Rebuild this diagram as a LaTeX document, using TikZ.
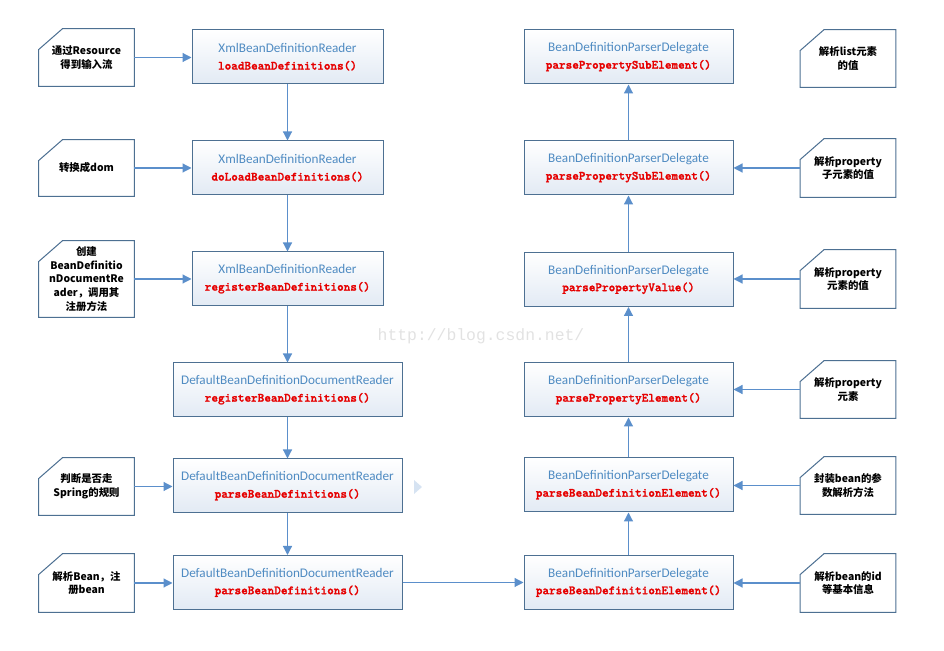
\documentclass[tikz,border=0pt]{standalone}
\usepackage{fontspec}
\setmainfont{Carlito}
\setmonofont{lmmono10-regular.otf}[BoldFont=lmmonolt10-bold.otf, BoldFeatures={FakeBold=1.5}]
\newfontfamily\cjk{Noto Sans CJK SC}
\newfontfamily\wmfont{Liberation Mono}
\usetikzlibrary{arrows.meta}
\definecolor{boxline}{HTML}{4D7092}
\definecolor{boxfill}{HTML}{E2EAF4}
\definecolor{arrowblue}{HTML}{5B8FCB}
\definecolor{clsblue}{HTML}{4F8BC2}
\definecolor{mthred}{HTML}{E60000}
\definecolor{wmgray}{HTML}{E2E2E2}
\newcommand\clsname[1]{{\color{clsblue}#1}}
\newcommand\mthname[1]{{\fontsize{6.3}{8.5}\selectfont\ttfamily\bfseries\color{mthred}#1}}
\begin{document}
\begin{tikzpicture}[x=0.5pt,y=-0.5pt,>={Triangle[length=4.5pt,width=4.5pt]},
    box/.style={draw=boxline, line width=0.5pt, top color=white, bottom color=boxfill,
        minimum height=27pt, inner sep=0pt, align=center, font=\fontsize{6.6}{8.5}\selectfont},
    note/.style={fill=white, minimum width=47.5pt, inner sep=0pt, align=center,
        font=\cjk\bfseries\fontsize{5.2}{6.8}\selectfont},
    noteline/.style={draw=boxline, line width=0.5pt},
    arr/.style={->, draw=arrowblue, fill=arrowblue, line width=0.6pt}]
\useasboundingbox (0,0) rectangle (944,651);
% watermark
\node[font=\wmfont\fontsize{8.2}{9}\selectfont, text=wmgray] (wm) at (481,336) {http://blog.csdn.net/};
% left column
\node[box, minimum width=95.5pt] (b1) at (287.5,57) {\clsname{XmlBeanDefinitionReader}\\\mthname{loadBeanDefinitions()}};
\node[box, minimum width=95.5pt] (b2) at (287.5,168) {\clsname{XmlBeanDefinitionReader}\\\mthname{doLoadBeanDefinitions()}};
\node[box, minimum width=95.5pt] (b3) at (287.5,279) {\clsname{XmlBeanDefinitionReader}\\\mthname{registerBeanDefinitions()}};
\node[box, minimum width=114.5pt] (b4) at (287.5,390) {\clsname{DefaultBeanDefinitionDocumentReader}\\\mthname{registerBeanDefinitions()}};
\node[box, minimum width=114.5pt] (b5) at (287.5,486) {\clsname{DefaultBeanDefinitionDocumentReader}\\\mthname{parseBeanDefinitions()}};
\node[box, minimum width=114.5pt] (b6) at (287.5,582.5) {\clsname{DefaultBeanDefinitionDocumentReader}\\\mthname{parseBeanDefinitions()}};
% right column
\node[box, minimum width=104.5pt] (r1) at (628.5,57) {\clsname{BeanDefinitionParserDelegate}\\\mthname{parsePropertySubElement()}};
\node[box, minimum width=104.5pt] (r2) at (628.5,168) {\clsname{BeanDefinitionParserDelegate}\\\mthname{parsePropertySubElement()}};
\node[box, minimum width=104.5pt] (r3) at (628.5,279.5) {\clsname{BeanDefinitionParserDelegate}\\\mthname{parsePropertyValue()}};
\node[box, minimum width=104.5pt] (r4) at (628.5,390) {\clsname{BeanDefinitionParserDelegate}\\\mthname{parsePropertyElement()}};
\node[box, minimum width=104.5pt] (r5) at (628.5,485) {\clsname{BeanDefinitionParserDelegate}\\\mthname{parseBeanDefinitionElement()}};
\node[box, minimum width=104.5pt] (r6) at (628.5,582.5) {\clsname{BeanDefinitionParserDelegate}\\\mthname{parseBeanDefinitionElement()}};
% notes
\node[note, minimum height=28.5pt] (n1) at (86.5,57.5) {通过Resource\\得到输入流};
\node[note, minimum height=28pt] (n2) at (86.5,168) {转换成dom};
\node[note, minimum height=38pt] (n3) at (86.5,279) {创建\\BeanDefinitio\\nDocumentRe\\ader，调用其\\注册方法};
\node[note, minimum height=28.5pt] (n4) at (86.5,486.5) {判断是否走\\Spring的规则};
\node[note, minimum height=29pt] (n5) at (86.5,583) {解析Bean，注\\册bean};
\node[note, minimum height=28.5pt] (m1) at (848,58.5) {解析list元素\\的值};
\node[note, minimum height=29pt] (m2) at (848,168) {解析property\\子元素的值};
\node[note, minimum height=29pt] (m3) at (848,279) {解析property\\元素的值};
\node[note, minimum height=28.5pt] (m4) at (848,389.5) {解析property\\元素};
\node[note, minimum height=28.5pt] (m5) at (848,485.5) {封装bean的参\\数解析方法};
\node[note, minimum height=29pt] (m6) at (848,583) {解析bean的id\\等基本信息};
\foreach \n in {n1,n2,n3,n4,n5,m1,m2,m3,m4,m5,m6}
    \draw[noteline] ([yshift=-10.5pt]\n.north west) -- ([xshift=12pt]\n.north west) -- (\n.north east)
        -- (\n.south east) -- (\n.south west) -- cycle;
% connectors
\foreach \a/\b in {b1/b2,b2/b3,b3/b4,b4/b5,b5/b6,r6/r5,r5/r4,r4/r3,r3/r2,r2/r1}
    \draw[arr] (\a) -- (\b);
\foreach \n/\b in {n1/b1,n2/b2,n3/b3,n4/b5,n5/b6}
    \draw[arr] (\n.east) -- (\n.east -| \b.west);
\foreach \n/\b in {m2/r2,m3/r3,m4/r4,m5/r5,m6/r6}
    \draw[arr] (\n.west) -- (\n.west -| \b.east);
\draw[arr] (b6.east) -- (r6.west);
% stray arrowhead
\fill[arrowblue!25] (414,480) -- (422,487) -- (414,494) -- cycle;
\end{tikzpicture}
\end{document}
